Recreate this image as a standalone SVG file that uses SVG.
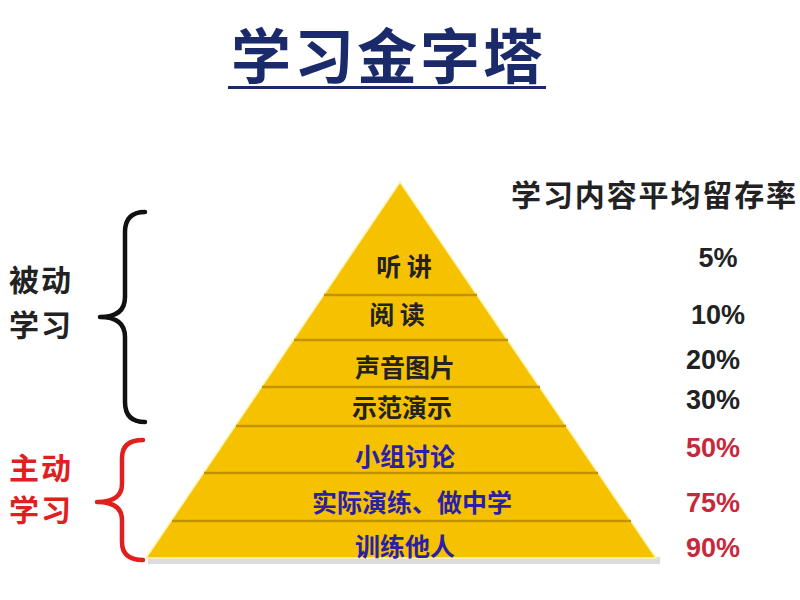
<svg xmlns="http://www.w3.org/2000/svg" width="800" height="600" viewBox="0 0 800 600">
<style>
text{font-family:"Noto Sans CJK SC","Noto Sans",sans-serif;font-weight:bold}
.lvl{font-size:25px;text-anchor:middle}
.pas{fill:#222222}
.act{fill:#2b1fa6}
.pct{font-family:"Liberation Sans","Noto Sans CJK SC",sans-serif;font-size:27px;text-anchor:middle}
.pctb{fill:#222222}
.pctr{fill:#c9283a}
.div{stroke:#c49200;stroke-width:2.5}
.brace{fill:none;stroke-width:4.5;stroke-linecap:round;stroke-linejoin:round}
.side{font-size:30px}
</style>
<rect width="800" height="600" fill="#ffffff"/>
<g id="title">
<text x="231" y="79" font-size="60" fill="#1b2a6b" textLength="312" lengthAdjust="spacing">学习金字塔</text>
<rect x="228" y="86" width="318" height="3" fill="#1b2a6b"/>
</g>
<g id="header">
<text x="511" y="206" font-size="30" fill="#222222" textLength="285" lengthAdjust="spacing">学习内容平均留存率</text>
</g>
<g id="pyramid">
<rect x="148" y="557" width="512" height="7" fill="#dcdcdc"/>
<polygon points="400,182 146,558 656,558" fill="#f6c200" stroke="#fff3b0" stroke-width="1.5"/>
</g>
<g id="connectors">
<line class="div" x1="324" y1="295" x2="477" y2="295"/>
<line class="div" x1="294" y1="340" x2="508" y2="340"/>
<line class="div" x1="262" y1="387" x2="540" y2="387"/>
<line class="div" x1="236" y1="426" x2="566" y2="426"/>
<line class="div" x1="204" y1="473" x2="598" y2="473"/>
<line class="div" x1="172" y1="521" x2="631" y2="521"/>
</g>
<g id="level1"><text class="lvl pas" x="404" y="276">听 讲</text><text class="pct pctb" x="718" y="267">5%</text></g>
<g id="level2"><text class="lvl pas" x="397" y="324">阅 读</text><text class="pct pctb" x="718" y="324">10%</text></g>
<g id="level3"><text class="lvl pas" x="405" y="377">声音图片</text><text class="pct pctb" x="713" y="369">20%</text></g>
<g id="level4"><text class="lvl pas" x="402" y="417">示范演示</text><text class="pct pctb" x="713" y="409">30%</text></g>
<g id="level5"><text class="lvl act" x="405" y="466">小组讨论</text><text class="pct pctr" x="713" y="457">50%</text></g>
<g id="level6"><text class="lvl act" x="412" y="512">实际演练、做中学</text><text class="pct pctr" x="713" y="512">75%</text></g>
<g id="level7"><text class="lvl act" x="405" y="556">训练他人</text><text class="pct pctr" x="713" y="557">90%</text></g>
<g id="passive">
<path class="brace" stroke="#111111" d="M145,212 Q125,212 125,232 L125,297 Q125,317 100,317 Q125,317 125,337 L125,402 Q125,422 145,422"/>
<text class="side" x="9" y="291" fill="#222222" textLength="62" lengthAdjust="spacing">被动</text>
<text class="side" x="9" y="336" fill="#222222" textLength="62" lengthAdjust="spacing">学习</text>
</g>
<g id="active">
<path class="brace" stroke="#e0201e" d="M143,440 Q122,440 122,458 L122,484 Q122,502 97,502 Q122,502 122,520 L122,542 Q122,560 143,560"/>
<text class="side" x="9" y="479" fill="#e0201e" textLength="62" lengthAdjust="spacing">主动</text>
<text class="side" x="9" y="521" fill="#e0201e" textLength="62" lengthAdjust="spacing">学习</text>
</g>
</svg>
